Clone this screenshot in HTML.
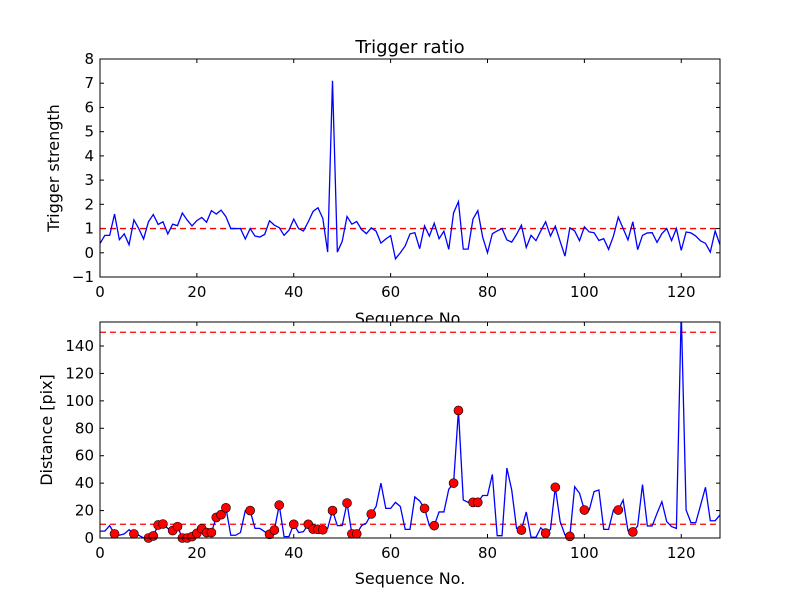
<!DOCTYPE html>
<html><head><meta charset="utf-8"><style>
body{margin:0;background:#fff;}
svg{display:block;font-family:"DejaVu Sans","Liberation Sans",sans-serif;}
</style></head><body>
<svg id="c" width="800" height="600"></svg>
<script>
const ratio=[0.38,0.72,0.72,1.6,0.54,0.78,0.33,1.36,1,0.57,1.28,1.58,1.17,1.28,0.78,1.18,1.12,1.64,1.35,1.11,1.33,1.46,1.26,1.74,1.6,1.76,1.49,1,1,1,0.57,1,0.69,0.65,0.76,1.32,1.14,1.04,0.72,0.93,1.39,1,0.9,1.28,1.71,1.86,1.42,0.03,7.1,0.03,0.47,1.5,1.18,1.29,0.96,0.79,1.03,0.89,0.4,0.57,0.71,-0.25,0,0.28,0.78,0.83,0.17,1.11,0.69,1.22,0.58,0.89,0.14,1.65,2.11,0.15,0.15,1.39,1.74,0.65,0,0.79,0.9,1,0.53,0.44,0.76,1.14,0.22,0.72,0.5,0.9,1.28,0.69,1.1,0.47,-0.14,1.03,0.9,0.5,1.07,0.86,0.83,0.51,0.58,0.14,0.69,1.47,1,0.53,1.28,0.13,0.72,0.82,0.83,0.43,0.79,1,0.5,1,0.1,0.86,0.82,0.69,0.49,0.39,0.03,0.9,0.33];
const dist=[5,5,9,3,2,3,6,3,2,0,0,1.5,9.5,10.2,7,5.4,8.3,0,0,1,3.4,6.8,4,4,15,17,22,2,2,4,20,20,7,7,4.6,2.7,5.8,24,1,1,10,4,4.6,10,6.5,6.3,6,7,20,9,9,25.5,3,3,9,11,17.5,23,40,21.6,21.6,26,23,6.3,6.3,30,27,21.6,9,9,19,19,35.5,40,93,27.7,26,26,26,31,31,46.4,1.7,1.7,51,35,7,5.8,19,0.5,0.5,7.5,3.6,6.3,37,12,2.2,1.2,37.4,32.6,20.4,20.4,33.8,35,6.3,6.3,20.4,20.4,27.7,5.3,4.4,8.8,39,8.8,8.8,18,26.5,12,8.3,7,165,20.4,11.2,11.2,24,37,12.6,12.6,16.8];
const markIdx=[3,7,10,11,12,13,15,16,17,18,19,20,21,22,23,24,25,26,31,35,36,37,40,43,44,45,46,48,51,52,53,56,67,69,73,74,77,78,87,92,94,97,100,107,110];
const xTicks=[0,20,40,60,80,100,120];
const topYTicks=[-1,0,1,2,3,4,5,6,7,8];
const botYTicks=[0,20,40,60,80,100,120,140];
const topThresh=1, botThresh=[10,150];

const NS="http://www.w3.org/2000/svg", svg=document.getElementById('c');
function mk(t,a,p){const e=document.createElementNS(NS,t);for(const k in a)e.setAttribute(k,a[k]);(p||svg).appendChild(e);return e;}
const L=100,R=720;
const X=v=>L+(v/128)*(R-L);
function axes(top,bot,ymin,ymax,yt,name,ylabel){
  const Y=v=>bot-(v-ymin)/(ymax-ymin)*(bot-top);
  const g=mk('g',{});
  
  
  mk('rect',{x:L,y:top,width:R-L,height:bot-top,fill:'#fff'},g);
  xTicks.forEach(t=>{const x=X(t);
    mk('line',{x1:x,x2:x,y1:bot,y2:bot-4,stroke:'#000'},g);
    mk('line',{x1:x,x2:x,y1:top,y2:top+4,stroke:'#000'},g);
    const tx=mk('text',{x:x,y:bot+20,'font-size':15,'text-anchor':'middle'},g);tx.textContent=t;
    
    });
  yt.forEach(t=>{const y=Y(t);
    mk('line',{x1:L,x2:L+4,y1:y,y2:y,stroke:'#000'},g);
    mk('line',{x1:R,x2:R-4,y1:y,y2:y,stroke:'#000'},g);
    const tx=mk('text',{x:L-6,y:y+5,'font-size':15,'text-anchor':'end'},g);tx.textContent=(t<0?'\u2212'+(-t):t);
    
    });
  const yl=mk('text',{x:0,y:0,'font-size':16,'text-anchor':'middle',transform:`translate(${name==='top-axes'?59:52},${(top+bot)/2}) rotate(-90)`},g);
  yl.textContent=ylabel;
  
  
  return {Y,g};
}
// top
const ta=axes(59,277,-1,8,topYTicks,'top-axes','Trigger strength');
let l=mk('line',{x1:L,x2:R,y1:ta.Y(topThresh),y2:ta.Y(topThresh),stroke:'red','stroke-width':1.3,'stroke-dasharray':'6,4'});


let p=mk('polyline',{points:ratio.map((v,i)=>X(i)+','+ta.Y(v)).join(' '),fill:'none',stroke:'blue','stroke-width':1.3});


mk('rect',{x:L,y:59,width:R-L,height:218,fill:'none',stroke:'#000'});
let t=mk('text',{x:410,y:53,'font-size':18,'text-anchor':'middle'});t.textContent='Trigger ratio';


t=mk('text',{x:410,y:324,'font-size':16,'text-anchor':'middle'});t.textContent='Sequence No.';


// bottom
const ba=axes(322,538,0,157.5,botYTicks,'bottom-axes','Distance [pix]');
const cp=mk('clipPath',{id:'cb'});mk('rect',{x:L,y:322,width:R-L,height:216},cp);
botThresh.forEach(v=>{const e=mk('line',{x1:L,x2:R,y1:ba.Y(v),y2:ba.Y(v),stroke:'red','stroke-width':1.3,'stroke-dasharray':'6,4'});
  
  });
p=mk('polyline',{points:dist.map((v,i)=>X(i)+','+ba.Y(v)).join(' '),fill:'none',stroke:'blue','stroke-width':1.3,'clip-path':'url(#cb)'});


markIdx.forEach(i=>{const c=mk('circle',{cx:X(i),cy:ba.Y(dist[i]),r:4.5,fill:'red',stroke:'#000','stroke-width':0.6});
  
  });
mk('rect',{x:L,y:322,width:R-L,height:216,fill:'none',stroke:'#000'});
t=mk('text',{x:410,y:584,'font-size':16,'text-anchor':'middle'});t.textContent='Sequence No.';


</script>
</body></html>
